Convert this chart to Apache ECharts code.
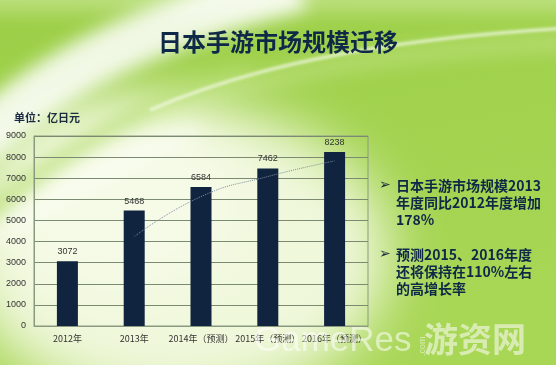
<!DOCTYPE html>
<html><head><meta charset="utf-8">
<script src="https://cdn.jsdelivr.net/npm/echarts@6/dist/echarts.min.js"></script>
<style>html,body{margin:0;padding:0;overflow:hidden;} #wrap{position:relative;width:556px;height:365px;overflow:hidden;} #bg{position:absolute;left:0;top:0;} #c{position:absolute;left:0;top:0;width:556px;height:365px;}</style>
</head><body><div id="wrap">
<svg id="bg" width="556" height="365" viewBox="0 0 556 365">
  <defs>
    <linearGradient id="base" x1="0" y1="0" x2="0.3" y2="1">
      <stop offset="0" stop-color="#9ccf48"/><stop offset="1" stop-color="#a8d655"/>
    </linearGradient>
    <filter id="b30" x="-50%" y="-50%" width="200%" height="200%"><feGaussianBlur stdDeviation="28"/></filter>
    <filter id="b10" x="-50%" y="-50%" width="200%" height="200%"><feGaussianBlur stdDeviation="9"/></filter>
    <filter id="b2" x="-50%" y="-50%" width="200%" height="200%"><feGaussianBlur stdDeviation="1.5"/></filter>
  </defs>
  <rect x="0" y="0" width="556" height="365" fill="url(#base)"/>
  <rect x="-20" y="-20" width="600" height="32" fill="#d8efb0" opacity="0.5" filter="url(#b10)"/>
  <ellipse cx="175" cy="255" rx="215" ry="150" fill="#f0f8dc" filter="url(#b30)"/>
  <ellipse cx="120" cy="200" rx="120" ry="90" fill="#f6fbe8" filter="url(#b30)"/>
  <path d="M-30 150 C 50 70 150 25 300 -15" stroke="#ffffff" stroke-width="50" opacity="0.85" fill="none" filter="url(#b10)"/>
  <path d="M-20 220 C 60 150 150 100 250 70" stroke="#b2dc6c" stroke-width="16" opacity="0.75" fill="none" filter="url(#b10)"/>
  <path d="M-20 250 C 40 200 120 160 200 130" stroke="#ffffff" stroke-width="10" opacity="0.6" fill="none" filter="url(#b10)"/>
  <path d="M150 110 C 260 62 400 38 570 28" stroke="#ffffff" stroke-width="3" opacity="0.75" fill="none" filter="url(#b2)"/>
  <path d="M150 118 C 260 72 400 50 570 42" stroke="#e4f4c0" stroke-width="14" opacity="0.35" fill="none" filter="url(#b10)"/>
</svg>
<div id="c"></div></div>
<script>
const categories = ['2012年', '2013年', '2014年（预测）', '2015年（预测）', '2016年（预测）'];
const marketSize = [3072, 5468, 6584, 7462, 8238];
const trendValues = [null, 4230, 6130, 7080, 7820];
const yMin = 0, yMax = 9000, yStep = 1000;
const titleText = '日本手游市场规模迁移';
const unitText = '单位：亿日元';
const bullet1 = ['日本手游市场规模2013', '年度同比2012年度增加', '178%'];
const bullet2 = ['预测2015、2016年度', '还将保持在110%左右', '的高增长率'];

const CJK = '"Noto Sans CJK SC", "Noto Sans", sans-serif';
const navy = '#10233f';
const chart = echarts.init(document.getElementById('c'));

const textGraphics = [
  { type: 'text', left: 'center', top: 30, style: { text: titleText, font: 'bold 24px ' + CJK, fill: '#0e2848' } },
  { type: 'text', left: 14, top: 112, style: { text: unitText, font: 'bold 11px ' + CJK, fill: '#1a2a40' } },
  { type: 'text', left: 379, top: 178, style: { text: '➢', font: 'bold 14px "DejaVu Sans"', fill: '#1a2a40' } },
  { type: 'text', left: 396, top: 177, style: { text: bullet1.join('\n'), font: 'bold 14px ' + CJK, lineHeight: 17, fill: '#0e2848' } },
  { type: 'text', left: 379, top: 247, style: { text: '➢', font: 'bold 14px "DejaVu Sans"', fill: '#1a2a40' } },
  { type: 'text', left: 396, top: 246, style: { text: bullet2.join('\n'), font: 'bold 14px ' + CJK, lineHeight: 17, fill: '#0e2848' } },
  { type: 'text', left: 254, top: 324, z: 100, style: { text: 'GameRes', font: '35px "Liberation Sans"', fill: 'rgba(255,255,255,0.55)' } },
  { type: 'text', x: 418, y: 356, rotation: Math.PI / 2, z: 100, style: { text: '.com', font: '9px "Liberation Sans"', fill: 'rgba(255,255,255,0.55)' } },
  { type: 'text', left: 424, top: 322, z: 100, style: { text: '游资网', font: 'bold 34px ' + CJK, fill: 'rgba(255,255,255,0.55)' } }
];

chart.setOption({
  backgroundColor: 'transparent',
  animation: false,
  graphic: textGraphics,
  grid: { left: 34, right: 188, top: 136, bottom: 39, show: true, borderColor: '#8a9a80', borderWidth: 1, backgroundColor: 'transparent' },
  xAxis: {
    type: 'category', data: categories,
    axisLine: { show: true, lineStyle: { color: '#8a9a80' } },
    axisTick: { show: false },
    axisLabel: { fontSize: 9, color: '#333', fontFamily: CJK, margin: 8, interval: 0 }
  },
  yAxis: {
    type: 'value', min: yMin, max: yMax, interval: yStep,
    axisLine: { show: true, lineStyle: { color: '#8a9a80' } },
    axisTick: { show: false },
    axisLabel: { fontSize: 9, color: '#333', fontFamily: '"Liberation Sans", sans-serif', margin: 8, formatter: v => String(v) },
    splitLine: { lineStyle: { color: '#7c8a72', width: 1 } }
  },
  series: [
    { type: 'bar', data: marketSize, barWidth: 21, itemStyle: { color: navy },
      label: { show: true, position: 'top', fontSize: 9, color: '#333', fontFamily: '"Liberation Sans", sans-serif', distance: 5 } },
    { type: 'line', data: trendValues, smooth: true, symbol: 'none', connectNulls: false,
      lineStyle: { color: '#7d8fa0', width: 1, type: 'dotted' }, z: 3 }
  ]
});
</script>
</body></html>
